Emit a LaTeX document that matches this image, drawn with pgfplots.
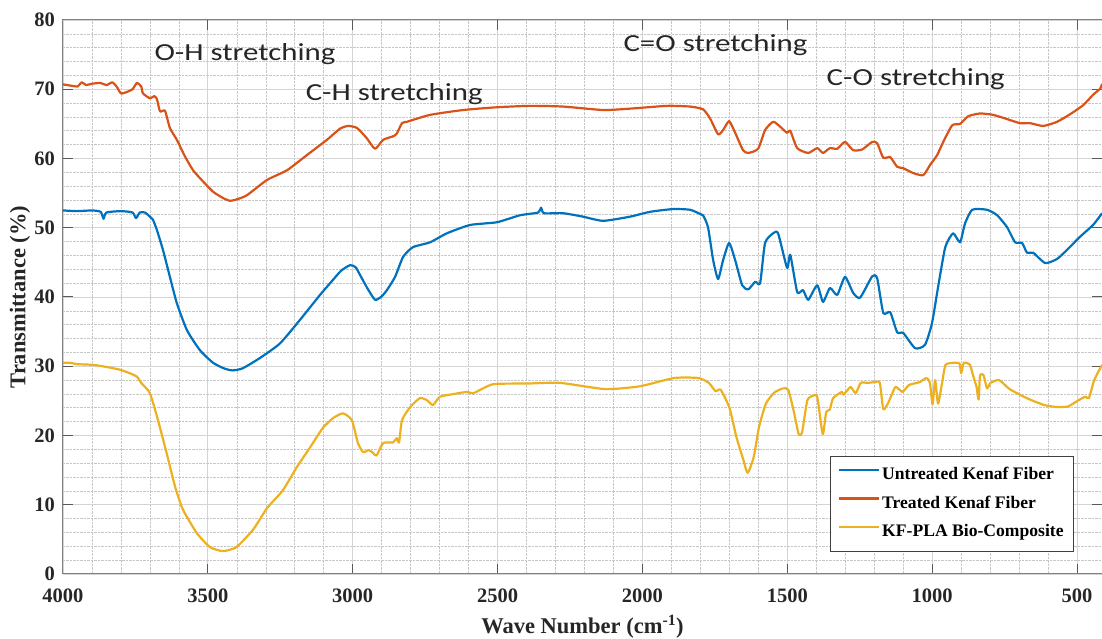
\documentclass[border=0pt]{standalone}
\usepackage{pgfplots}
\pgfplotsset{compat=1.18}
\usepackage{fontspec}
\setmainfont{Liberation Serif}
\newfontfamily\annfont[FakeStretch=1.26]{Carlito}
\definecolor{cblue}{RGB}{0,114,189}
\definecolor{corange}{RGB}{217,83,25}
\definecolor{cyellow}{RGB}{237,177,32}
\begin{document}
\begin{tikzpicture}
\begin{axis}[
  scale only axis, width=1039pt, height=554pt,
  x dir=reverse, xmin=414, xmax=4000, ymin=0, ymax=80,
  xtick={500,1000,...,4000}, ytick={0,10,...,80},
  minor x tick num=4, minor y tick num=4,
  grid=both,
  major grid style={solid, draw=black!17, line width=0.8pt},
  minor grid style={densely dotted, draw=black!22, line width=0.6pt},
  axis line style={draw=black!50, line width=1pt},
  tick style={draw=black!65, line width=1pt},
  major tick length=10pt, minor tick length=0pt,
  tick align=inside, tick pos=both,
  scaled x ticks=false,
  /pgf/number format/1000 sep={},
  /pgf/number format/assume math mode=true,
  tick label style={font=\fontsize{20.5}{24}\selectfont\bfseries, text=black!85},
  xticklabel style={anchor=base, yshift=-28pt},
  yticklabel style={anchor=east, inner xsep=0pt, xshift=-8pt},
  xlabel={Wave Number (cm\textsuperscript{-1})},
  ylabel={Transmittance (\%)},
  label style={font=\fontsize{22.5}{26}\selectfont\bfseries, text=black!85},
  xlabel style={at={(axis description cs:0.5,-0.1065)}, anchor=base},
  ylabel style={at={(axis description cs:-0.0414,0.5)}, anchor=center},
  legend style={at={(0.973,0.040)}, anchor=south east, draw=black!75, line width=0.8pt, fill=white,
    font=\fontsize{17.6}{20}\selectfont\bfseries, inner xsep=7.5pt, inner ysep=10.5pt, row sep=11.5pt,
    nodes={inner xsep=2.5pt, inner ysep=0pt, text height=13pt, text depth=4pt}},
  legend cell align=left,
  legend image code/.code={\draw[#1, line width=2.2pt] (0pt,5.5pt) -- (40pt,5.5pt);},
  every axis plot/.append style={line width=2.2pt, line join=round, smooth, tension=0.35},
]
\addplot[cblue] coordinates {
(4000,52.5) (3950,52.4) (3900,52.5) (3870,52.3) (3860,51.3) (3850,52.2) (3800,52.4) (3760,52.2)
(3748,51.4) (3735,52.2) (3717,52.2) (3700,51.6) (3690,51.2) (3676,49.7) (3655,46.8) (3631,42.9)
(3607,39.1) (3572,35.2) (3527,32.3) (3482,30.5) (3445,29.7) (3415,29.4) (3380,29.7) (3320,31.2)
(3251,33.3) (3182,36.7) (3113,40.3) (3078,42.0) (3040,43.8) (3009,44.6) (2990,44.3) (2975,43.2)
(2950,41.3) (2923,39.6) (2900,40.1) (2882,41.0) (2854,42.9) (2826,45.8) (2792,47.2) (2733,47.9)
(2675,49.2) (2595,50.4) (2502,50.8) (2423,51.8) (2360,52.2) (2350,52.9) (2340,52.1) (2274,52.1)
(2205,51.6) (2136,51.0) (2043,51.6) (1974,52.3) (1894,52.7) (1836,52.6) (1801,52.0) (1791,51.8)
(1774,50.1) (1756,45.3) (1739,42.6) (1722,45.3) (1701,47.8) (1680,45.3) (1656,41.7) (1635,41.1)
(1611,42.2) (1594,42.0) (1577,47.8) (1549,49.2) (1532,49.2) (1501,44.2) (1490,46.1) (1466,40.7)
(1446,41.0) (1428,39.6) (1397,41.7) (1377,39.3) (1353,41.3) (1328,40.3) (1301,42.9) (1273,40.6)
(1249,39.9) (1207,43.0) (1190,42.7) (1169,37.7) (1145,37.8) (1121,34.9) (1100,34.8) (1059,32.6)
(1025,33.1) (1001,36.2) (980,41.4) (955,47.2) (928,49.2) (904,47.9) (887,50.6) (862,52.6)
(811,52.6) (776,51.8) (742,50.1) (714,47.9) (690,47.8) (673,46.4) (652,46.4) (610,44.9)
(569,45.5) (535,46.8) (490,48.7) (445,50.4) (414,52.1)
};
\addlegendentry{Untreated Kenaf Fiber}
\addplot[corange] coordinates {
(4000,70.7) (3970,70.5) (3950,70.4) (3935,71.0) (3920,70.6) (3900,70.8) (3870,70.9) (3850,70.6)
(3830,71.0) (3815,70.4) (3800,69.4) (3780,69.6) (3760,70.0) (3745,70.9) (3730,70.4) (3724,69.4)
(3700,68.7) (3685,69.0) (3676,68.6) (3665,66.8) (3648,66.9) (3631,64.4) (3607,62.7) (3579,60.3)
(3551,58.3) (3517,56.7) (3482,55.2) (3448,54.3) (3424,53.9) (3400,54.1) (3365,54.7) (3296,56.9)
(3227,58.3) (3158,60.5) (3089,62.7) (3044,64.3) (3016,64.7) (2985,64.4) (2951,62.9) (2923,61.4)
(2895,62.7) (2861,63.2) (2848,63.6) (2830,65.1) (2813,65.3) (2733,66.3) (2619,67.0) (2502,67.4)
(2388,67.6) (2274,67.5) (2136,67.0) (2043,67.2) (1915,67.6) (1836,67.5) (1791,67.1) (1767,65.8)
(1739,63.5) (1722,64.1) (1701,65.4) (1680,63.7) (1653,61.2) (1635,60.8) (1601,61.4) (1577,64.1)
(1549,65.3) (1525,64.6) (1501,63.7) (1490,64.0) (1466,61.5) (1428,60.8) (1397,61.5) (1377,60.8)
(1353,61.5) (1328,61.4) (1301,62.4) (1273,61.2) (1242,61.3) (1207,62.4) (1190,62.2) (1169,60.1)
(1145,60.2) (1121,58.8) (1100,58.6) (1066,57.9) (1031,57.6) (1007,59.1) (983,60.5) (962,62.4)
(931,64.8) (904,65.0) (876,66.1) (835,66.5) (790,66.3) (742,65.7) (697,65.1) (662,65.1)
(617,64.7) (569,65.3) (524,66.4) (479,67.7) (445,69.2) (420,70.1) (414,70.8)
};
\addlegendentry{Treated Kenaf Fiber}
\addplot[cyellow] coordinates {
(4000,30.5) (3976,30.5) (3950,30.3) (3896,30.2) (3850,29.9) (3803,29.5) (3770,29.0) (3745,28.5)
(3728,27.5) (3700,26.1) (3672,22.2) (3642,17.4) (3613,12.6) (3586,9.3) (3538,5.9) (3493,3.9)
(3448,3.3) (3401,3.9) (3344,6.4) (3296,9.5) (3241,12.1) (3192,15.5) (3147,18.3) (3103,21.1)
(3068,22.5) (3034,23.2) (3003,22.2) (2982,18.9) (2964,17.6) (2945,17.9) (2930,17.5) (2918,17.1)
(2895,18.9) (2861,19.0) (2848,19.6) (2840,19.0) (2830,22.2) (2802,24.1) (2768,25.4) (2744,25.1)
(2723,24.4) (2699,25.6) (2650,26.0) (2605,26.3) (2584,26.1) (2516,27.4) (2400,27.5) (2284,27.6)
(2129,26.7) (2010,27.1) (1891,28.3) (1807,28.3) (1771,27.6) (1748,26.4) (1730,26.6) (1700,24.0)
(1676,19.8) (1652,16.5) (1637,14.6) (1616,16.9) (1598,21.2) (1574,24.6) (1545,26.2) (1515,26.8)
(1497,26.6) (1479,23.7) (1461,20.2) (1449,20.5) (1431,25.1) (1407,25.8) (1396,25.4) (1378,20.2)
(1366,23.4) (1354,23.7) (1342,25.4) (1312,26.3) (1306,25.9) (1282,27.0) (1264,26.1) (1247,27.6)
(1223,27.6) (1199,27.7) (1181,27.6) (1169,23.8) (1151,24.8) (1127,27.0) (1103,26.3) (1080,27.3)
(1044,27.7) (1020,28.3) (1008,27.6) (999,24.5) (990,28.0) (980,24.6) (966,27.6) (954,30.2)
(924,30.5) (906,30.4) (900,29.0) (891,30.5) (870,30.2) (858,28.5) (847,27.0) (840,25.2)
(835,28.7) (823,28.7) (811,26.8) (799,27.6) (769,28.0) (733,26.7) (674,25.4) (614,24.4)
(567,24.1) (531,24.2) (495,25.1) (471,25.6) (459,25.4) (441,28.0) (414,30.2)
};
\addlegendentry{KF-PLA Bio-Composite}
\begin{scope}[every node/.style={font=\annfont\fontsize{24.5}{29}\selectfont, text=black!85, anchor=base, inner sep=0pt}]
\node at (axis cs:3372,74.1) {O-H stretching};
\node at (axis cs:2857,68.4) {C-H stretching};
\node at (axis cs:1748,75.4) {C=O stretching};
\node at (axis cs:1057,70.5) {C-O stretching};
\end{scope}
\end{axis}
\pgfresetboundingbox
\useasboundingbox (-63pt,-65pt) rectangle (1039pt,574pt);
\end{tikzpicture}
\end{document}
